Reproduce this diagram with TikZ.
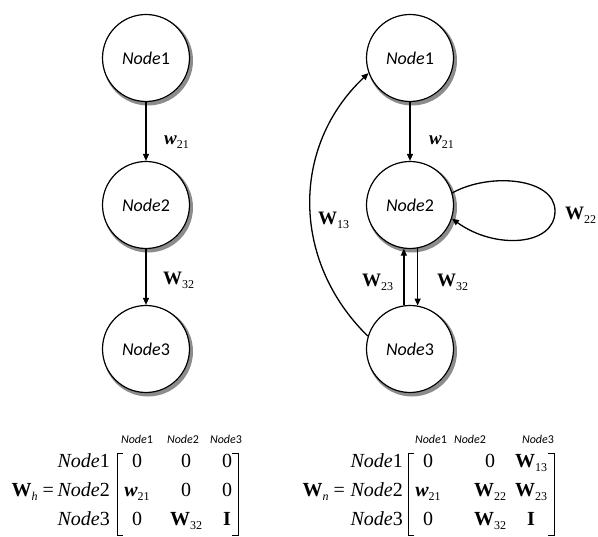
\documentclass[tikz,border=0pt]{standalone}
\usepackage{fontspec}
\setmainfont{Liberation Serif}
\newfontfamily\serfnt{Liberation Serif}
\newfontfamily\nodefnt{Carlito}
\usetikzlibrary{arrows.meta}
\newcommand{\bW}{{\serfnt\bfseries W}}
\newcommand{\bw}{{\serfnt\bfseries\itshape w}}
\newcommand{\bI}{{\serfnt\bfseries I}}
\newcommand{\mysub}[1]{\raisebox{-4pt}{\serfnt\fontsize{12}{12}\selectfont #1}}
\newcommand{\hsub}[1]{\raisebox{-4pt}{\serfnt\fontsize{12}{12}\selectfont\itshape #1}}
\newcommand{\rowlab}[1]{{\serfnt\itshape Node}{\serfnt #1}}
\definecolor{shadowgray}{HTML}{8C8C8C}
\begin{document}
\begin{tikzpicture}[x=1pt,y=-1pt,
  gnode/.style={circle, draw, line width=1.2pt, fill=white, minimum size=87pt, inner sep=0pt,
    font=\nodefnt\fontsize{18}{18}\selectfont},
  shad/.style={draw=shadowgray, line width=4pt},
  edge/.style={line width=1.3pt, -{Triangle[length=7pt,width=6pt]}},
  elab/.style={inner sep=0pt, anchor=base west, font=\serfnt\fontsize{19}{19}\selectfont},
  rlab/.style={inner sep=0pt, anchor=base east, font=\serfnt\fontsize{20}{20}\selectfont},
  ment/.style={inner sep=0pt, anchor=base, font=\serfnt\fontsize{20}{20}\selectfont},
  hdr/.style={inner sep=0pt, anchor=base, font=\nodefnt\fontsize{12}{12}\selectfont},
  brk/.style={line width=0.8pt}]
\useasboundingbox (0,0) rectangle (598,537);

% shadows of the circles
\foreach \px/\py in {146/58,146/205,146/349,410/58,410/205,410/349}
  \draw[shad] (\px+2,\py+2.5) circle (43);

% left graph
\node[gnode] (L1) at (146,58) {\textit{Node}1};
\node[gnode] (L2) at (146,205) {\textit{Node}2};
\node[gnode] (L3) at (146,349) {\textit{Node}3};
\draw[edge] (L1) -- (L2);
\draw[edge] (L2) -- (L3);
\node[elab] (lw21) at (164,145) {\bw\mysub{21}};
\node[elab] (lW32) at (163,285) {\bW\mysub{32}};

% right graph
\node[gnode] (R1) at (410,58) {\textit{Node}1};
\node[gnode] (R2) at (410,205) {\textit{Node}2};
\node[gnode] (R3) at (410,349) {\textit{Node}3};
\draw[edge] (R1) -- (R2);
\draw[edge] (R3.98) -- (R2.262);
\draw[edge] (R2.280) -- (R3.80);
\draw[edge] (R3.163) .. controls (291,261) and (291,146) .. (R1.200);
\draw[edge] (R2.16) .. controls (490,172) and (555,178) .. (555,211)
  .. controls (555,246) and (495,250) .. (R2.-18);
\node[elab] (rw21) at (429,145) {\bw\mysub{21}};
\node[elab] (rW13) at (318,225) {\bW\mysub{13}};
\node[elab] (rW23) at (362,287) {\bW\mysub{23}};
\node[elab] (rW32) at (437,287) {\bW\mysub{32}};
\node[elab] (rW22) at (565,220) {\bW\mysub{22}};

% left matrix
\node[hdr] (lh1) at (137,444) {\textit{Node}1};
\node[hdr] (lh2) at (183,444) {\textit{Node}2};
\node[hdr] (lh3) at (226,444) {\textit{Node}3};
\node[rlab] (lr1) at (110,468) {\rowlab{1}};
\node[rlab] (lr2) at (110,497) {\rowlab{2}};
\node[rlab] (lr3) at (110,526) {\rowlab{3}};
\node[rlab] (lWh) at (54,497) {\bW\hsub{h} =};
\draw[brk] (123,453) -- (117,453) -- (117,535) -- (123,535);
\draw[brk] (232,453) -- (238,453) -- (238,535) -- (232,535);
\node[ment] (l11) at (137,468) {0};
\node[ment] (l12) at (186,468) {0};
\node[ment] (l13) at (227,468) {0};
\node[ment] (l21) at (137,497) {\bw\mysub{21}};
\node[ment] (l22) at (186,497) {0};
\node[ment] (l23) at (227,497) {0};
\node[ment] (l31) at (137,526) {0};
\node[ment] (l32) at (186,526) {\bW\mysub{32}};
\node[ment] (l33) at (227,526) {\bI};

% right matrix
\node[hdr] (rh1) at (431,444) {\textit{Node}1};
\node[hdr] (rh2) at (470,444) {\textit{Node}2};
\node[hdr] (rh3) at (538,444) {\textit{Node}3};
\node[rlab] (rr1) at (403,468) {\rowlab{1}};
\node[rlab] (rr2) at (403,497) {\rowlab{2}};
\node[rlab] (rr3) at (403,526) {\rowlab{3}};
\node[rlab] (rWn) at (345,497) {\bW\hsub{n} =};
\draw[brk] (414,453) -- (408,453) -- (408,535) -- (414,535);
\draw[brk] (548,453) -- (554,453) -- (554,535) -- (548,535);
\node[ment] (r11) at (428,468) {0};
\node[ment] (r12) at (490,468) {0};
\node[ment] (r13) at (531,468) {\bW\mysub{13}};
\node[ment] (r21) at (428,497) {\bw\mysub{21}};
\node[ment] (r22) at (490,497) {\bW\mysub{22}};
\node[ment] (r23) at (531,497) {\bW\mysub{23}};
\node[ment] (r31) at (428,526) {0};
\node[ment] (r32) at (490,526) {\bW\mysub{32}};
\node[ment] (r33) at (531,526) {\bI};
\end{tikzpicture}
\end{document}
